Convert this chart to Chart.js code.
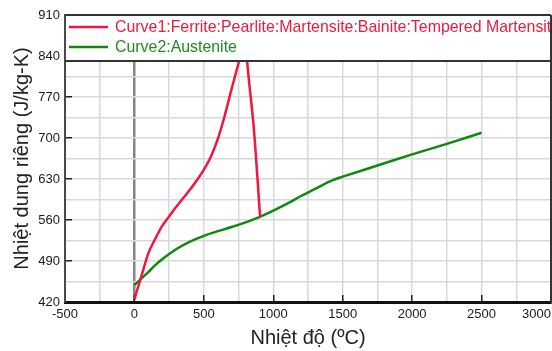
<!DOCTYPE html>
<html>
<head>
<meta charset="utf-8">
<script src="https://cdn.jsdelivr.net/npm/chart.js@4.4.1/dist/chart.umd.min.js"></script>
<style>
  html, body { margin: 0; padding: 0; background: #fff; overflow: hidden; }
  #wrap { width: 552px; height: 351px; }
</style>
</head>
<body>
<div id="wrap"><canvas id="c" width="552" height="351"></canvas></div>
<script>
// Specific heat of steel phases versus temperature
const seriesNames = [
  'Curve1:Ferrite:Pearlite:Martensite:Bainite:Tempered Martensite',
  'Curve2:Austenite'
];

// Curve 1 (ferrite / pearlite / martensite / bainite / tempered martensite)
const curve1Temp = [0, 50, 100, 150, 200, 250, 300, 350, 400, 450, 500, 550, 600, 650, 700, 750, 790, 830, 860, 880, 905];
const curve1Cp   = [425, 464, 503, 528, 550, 566, 582, 597, 612, 628, 646, 668, 698, 738, 784, 828, 862, 786, 716, 652, 565];

// Curve 2 (austenite)
const curve2Temp = [0, 50, 100, 150, 200, 300, 400, 500, 600, 700, 800, 900, 1000, 1100, 1200, 1300, 1400, 1450, 1500, 1750, 2000, 2250, 2500];
const curve2Cp   = [449, 460, 471, 483, 493, 510, 523, 533, 541, 548, 556, 565, 576, 588, 601, 613, 625, 630, 634, 653, 672, 690, 709];

// Axis tick labels
const xTickLabels = [-500, 0, 500, 1000, 1500, 2000, 2500, 3000];
const yTickLabels = [420, 490, 560, 630, 700, 770, 840, 910];

const FONT = '"Liberation Sans", Arial, sans-serif';
const RED = '#f2163e';
const GREEN = '#0d8a0d';
const legendTextColors = ['#ec1a40', '#1e8c1e'];

const toPoints = (xs, ys) => xs.map((x, i) => ({ x, y: ys[i] }));

// White legend panel across the top of the plot, plus the frame
const legendPanel = {
  id: 'legendPanel',
  afterDatasetsDraw(chart) {
    const { ctx, chartArea: a, scales: { y } } = chart;
    const panelBottom = Math.round(y.getPixelForValue(840)) + 5;
    ctx.save();
    ctx.fillStyle = '#fff';
    ctx.fillRect(a.left, a.top, a.right - a.left, panelBottom - a.top);

    chart.data.datasets.forEach((ds, i) => {
      const rowY = a.top + 12 + i * 20;
      ctx.strokeStyle = ds.borderColor;
      ctx.lineWidth = 2.5;
      ctx.beginPath();
      ctx.moveTo(a.left + 4, rowY);
      ctx.lineTo(a.left + 43, rowY);
      ctx.stroke();
      ctx.fillStyle = legendTextColors[i];
      ctx.font = '15.9px ' + FONT;
      ctx.textBaseline = 'middle';
      ctx.textAlign = 'left';
      ctx.fillText(ds.label, a.left + 50, rowY + 1);
    });

    ctx.strokeStyle = '#333';
    ctx.lineWidth = 2;
    ctx.beginPath();
    ctx.moveTo(a.left, panelBottom); ctx.lineTo(a.right, panelBottom);
    ctx.moveTo(a.left, a.top); ctx.lineTo(a.right, a.top);
    ctx.moveTo(a.right, a.top); ctx.lineTo(a.right, a.bottom);
    ctx.stroke();
    ctx.strokeStyle = '#4a4a4a';
    ctx.beginPath();
    ctx.moveTo(a.left, a.top); ctx.lineTo(a.left, panelBottom);
    ctx.stroke();
    ctx.restore();
  }
};

Chart.defaults.font.family = FONT;

new Chart(document.getElementById('c'), {
  type: 'line',
  data: {
    datasets: [
      {
        label: seriesNames[0],
        data: toPoints(curve1Temp, curve1Cp),
        borderColor: RED,
        borderWidth: 2.5,
        pointRadius: 0,
        cubicInterpolationMode: 'monotone'
      },
      {
        label: seriesNames[1],
        data: toPoints(curve2Temp, curve2Cp),
        borderColor: GREEN,
        borderWidth: 2.5,
        pointRadius: 0,
        cubicInterpolationMode: 'monotone'
      }
    ]
  },
  options: {
    responsive: false,
    animation: false,
    devicePixelRatio: 1,
    layout: { padding: { top: 15, right: 1, left: 0, bottom: 0 } },
    plugins: { legend: { display: false }, tooltip: { enabled: false } },
    scales: {
      x: {
        type: 'linear',
        min: -500,
        max: 3000,
        ticks: {
          stepSize: 250,
          autoSkip: false,
          maxRotation: 0,
          padding: 12,
          color: '#1a1a1a',
          font: { size: 13 },
          callback: (v) => {
            if (!xTickLabels.includes(v)) return '';
            // last label sits inside the right edge
            return v === xTickLabels[xTickLabels.length - 1] ? String(v) + '        ' : String(v);
          }
        },
        grid: {
          color: (c) => c.tick && c.tick.value === 0 ? '#858585' : '#d9d9d9',
          lineWidth: (c) => c.tick && c.tick.value === 0 ? 2.5 : 1.5,
          tickLength: -7,
          tickWidth: 1.5,
          tickColor: (c) => c.tick && xTickLabels.includes(c.tick.value) ? '#222' : 'rgba(0,0,0,0)'
        },
        border: { color: '#111', width: 3 },
        title: {
          display: true,
          text: 'Nhiệt độ (ºC)',
          color: '#222',
          font: { size: 20 },
          padding: { top: 0, bottom: 1 }
        },
        afterFit: (s) => { s.height = 49; s.paddingRight = 0; s.paddingLeft = 0; }
      },
      y: {
        type: 'linear',
        min: 420,
        max: 910,
        ticks: {
          stepSize: 35,
          autoSkip: false,
          padding: 12,
          color: '#1a1a1a',
          font: { size: 13 },
          callback: (v) => yTickLabels.includes(v) ? String(v) : ''
        },
        grid: {
          color: '#d9d9d9',
          lineWidth: 1.5,
          tickLength: -7,
          tickWidth: 1.5,
          tickColor: (c) => c.tick && yTickLabels.includes(c.tick.value) ? '#222' : 'rgba(0,0,0,0)'
        },
        border: { color: '#4a4a4a', width: 2 },
        title: {
          display: true,
          text: 'Nhiệt dung riêng (J/kg-K)',
          color: '#222',
          font: { size: 20 },
          padding: { top: 10, bottom: 0 }
        },
        afterFit: (s) => { s.width = 65; s.paddingTop = 0; s.paddingBottom = 0; }
      }
    }
  },
  plugins: [legendPanel]
});
</script>
</body>
</html>
